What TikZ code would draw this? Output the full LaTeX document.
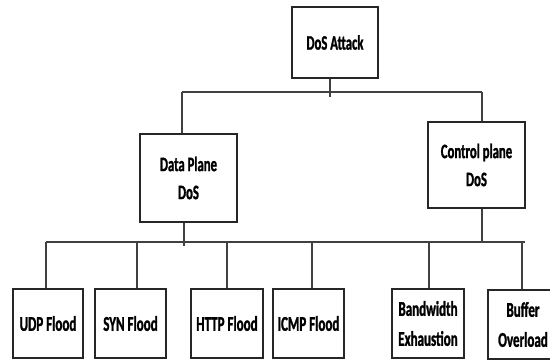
\documentclass[tikz,border=0pt]{standalone}
\usepackage{fontspec}
\setmainfont{Carlito}[FakeStretch=0.62, BoldFeatures={FakeBold=1.2}]
\begin{document}
\begin{tikzpicture}[x=1pt,y=-1pt,
  box/.style={draw=black!85, line width=1.3pt, fill=white, inner sep=0pt, align=center,
    font=\bfseries\fontsize{20.5}{28}\selectfont},
  leaf/.style={box, minimum height=69pt, font=\bfseries\fontsize{21}{30}\selectfont},
  conn/.style={draw=black!75, line width=1.3pt}]
\clip (0,0) rectangle (550,360);
\fill[white] (0,0) rectangle (550,360);
% nodes
\node[box, minimum width=86pt, minimum height=71pt] (root) at (335,42.5) {DoS Attack};
\node[box, minimum width=97pt, minimum height=88pt] (data) at (188.5,178) {Data Plane\\DoS};
\node[box, minimum width=97pt, minimum height=86pt] (ctrl) at (476.5,165) {Control plane\\DoS};
\node[leaf, minimum width=70pt] (udp)  at (48,323.5)   {UDP Flood};
\node[leaf, minimum width=71pt] (syn)  at (130.5,323.5) {SYN Flood};
\node[leaf, minimum width=72pt] (http) at (227,323.5)  {HTTP Flood};
\node[leaf, minimum width=71pt] (icmp) at (308.5,323.5) {ICMP Flood};
\node[leaf, minimum width=72pt] (band) at (428,323.5)  {Bandwidth\\Exhaustion};
\node[leaf, minimum width=70pt] (buf)  at (523,324.5)  {Buffer\\Overload};
% upper bus
\coordinate (b1l) at (182,92);
\coordinate (b1r) at (482,92);
\coordinate (j1) at (330,97);
\draw[conn] (b1l) -- (b1r);
\draw[conn] (root.south -| j1) -- (j1);
\draw[conn] (b1l) -- (b1l |- data.north);
\draw[conn] (b1r) -- (b1r |- ctrl.north);
% lower bus
\coordinate (b2l) at (46,242);
\coordinate (b2r) at (525,242);
\coordinate (j2) at (184,246);
\coordinate (j3) at (482,242);
\draw[conn] (b2l) -- (b2r);
\draw[conn] (data.south -| j2) -- (j2);
\draw[conn] (ctrl.south -| j3) -- (j3);
\foreach \n/\x in {udp/46, syn/137, http/227, icmp/312, band/429, buf/522} {
  \coordinate (s\n) at (\x,242);
  \draw[conn] (s\n) -- (s\n |- \n.north);
}
\end{tikzpicture}
\end{document}
